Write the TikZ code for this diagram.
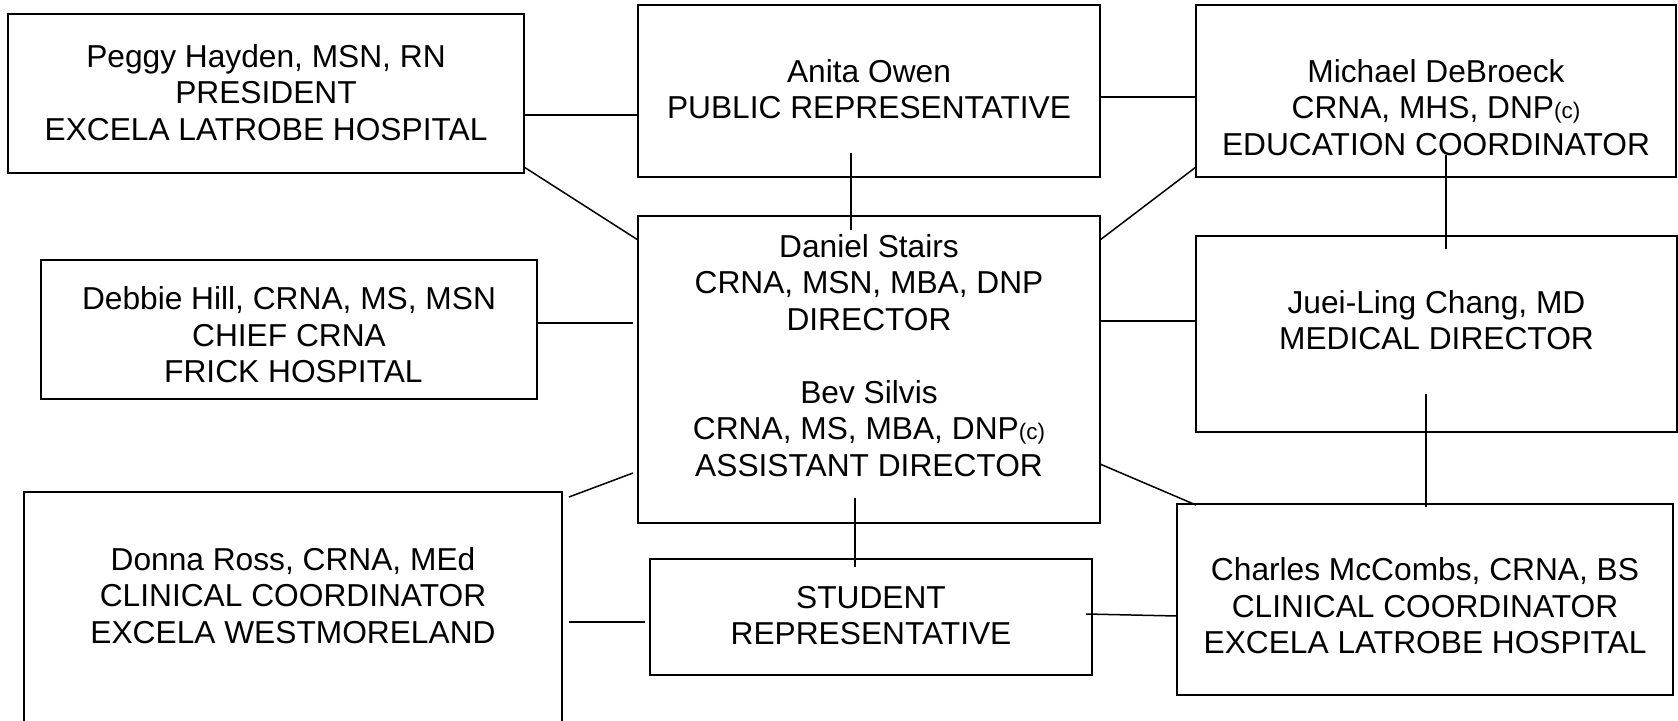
\documentclass[tikz,border=0pt]{standalone}
\usepackage{fontspec}
\setmainfont{Liberation Sans}
\usetikzlibrary{calc}
\newcommand{\smc}[1]{{\fontsize{22.5}{27}\selectfont #1}}
\begin{document}
\begin{tikzpicture}[x=1pt,y=-1pt,
  box/.style={draw=black,line width=1.8pt,rectangle,inner sep=0pt,outer sep=0pt},
  txt/.style={align=center,inner sep=0pt,outer sep=0pt,font=\fontsize{31.7}{36.5}\selectfont},
  link/.style={draw=black,line width=1.5pt}]
\useasboundingbox (0,0) rectangle (1678,720);
\clip (0,0) rectangle (1678,720);
% boxes
\node[box,minimum width=516pt,minimum height=159pt] (peggy) at (266,93.5) {};
\node[box,minimum width=462pt,minimum height=172pt] (anita) at (869,91) {};
\node[box,minimum width=480pt,minimum height=172pt] (michael) at (1436,91) {};
\node[box,minimum width=496pt,minimum height=139pt] (debbie) at (289,329.5) {};
\node[box,minimum width=462pt,minimum height=307pt] (daniel) at (869,369.5) {};
\node[box,minimum width=481pt,minimum height=196pt] (juei) at (1436.5,334) {};
\node[box,minimum width=538pt,minimum height=238pt] (donna) at (293,611) {};
\node[box,minimum width=442pt,minimum height=116pt] (student) at (871,617) {};
\node[box,minimum width=496pt,minimum height=191pt] (charles) at (1425,599.5) {};
% texts
\node[txt] (peggyT) at (266,96.4) {\strut Peggy Hayden, MSN, RN\\\strut PRESIDENT\\\strut EXCELA LATROBE HOSPITAL};
\node[txt] (anitaT) at (869,93) {\strut Anita Owen\\\strut PUBLIC REPRESENTATIVE};
\node[txt] (michaelT) at (1436,111.2) {\strut Michael DeBroeck\\\strut CRNA, MHS, DNP\smc{(c)}\\\strut EDUCATION COORDINATOR};
\node[txt] (debbieT) at (289,339) {\strut Debbie Hill, CRNA, MS, MSN\\\strut CHIEF CRNA\\\strut\hspace{8.8pt}FRICK HOSPITAL};
\node[txt] (danielT) at (869,359.2) {\strut Daniel Stairs\\\strut CRNA, MSN, MBA, DNP\\\strut DIRECTOR\\\strut\\\strut Bev Silvis\\\strut CRNA, MS, MBA, DNP\smc{(c)}\\\strut ASSISTANT DIRECTOR};
\node[txt] (jueiT) at (1436.5,324) {\strut Juei-Ling Chang, MD\\\strut MEDICAL DIRECTOR};
\node[txt] (donnaT) at (293,599.4) {\strut Donna Ross, CRNA, MEd\\\strut CLINICAL COORDINATOR\\\strut EXCELA WESTMORELAND};
\node[txt] (studentT) at (871,619) {\strut STUDENT\\\strut REPRESENTATIVE};
\node[txt] (charlesT) at (1425,609.7) {\strut Charles McCombs, CRNA, BS\\\strut CLINICAL COORDINATOR\\\strut EXCELA LATROBE HOSPITAL};
% connectors
\draw[link] ($(peggy.east)+(0,21.5)$) -- ($(anita.west)+(0,24)$);
\draw[link] ($(peggy.east)+(0,73.5)$) -- ($(daniel.west)+(0,-129.5)$);
\draw[link] ($(anita.east)+(0,6)$) -- ($(michael.west)+(0,6)$);
\draw[link] ($(anita.south)+(-18,-24)$) -- ($(daniel.north)+(-18,14)$);
\draw[link] ($(daniel.east)+(0,-129.5)$) -- ($(michael.west)+(0,76)$);
\draw[link] ($(michael.south)+(10,-22)$) -- ($(juei.north)+(9.5,13)$);
\draw[link] ($(debbie.east)+(0,-6.5)$) -- ($(daniel.west)+(-5,-46.5)$);
\draw[link] ($(daniel.east)+(0,-48.5)$) -- ($(juei.west)+(0,-13)$);
\draw[link] ($(donna.north east)+(7,5)$) -- ($(daniel.west)+(-5,103.5)$);
\draw[link] ($(donna.east)+(7,11)$) -- ($(student.west)+(-5,5)$);
\draw[link] ($(daniel.south)+(-14,-25)$) -- ($(student.north)+(-16,8)$);
\draw[link] ($(daniel.east)+(0,94.5)$) -- ($(charles.north west)+(19,1)$);
\draw[link] ($(juei.south)+(-10.5,-38)$) -- ($(charles.north)+(1,3)$);
\draw[link] ($(student.east)+(-6,-3)$) -- ($(charles.west)+(0,16.5)$);
\end{tikzpicture}
\end{document}
